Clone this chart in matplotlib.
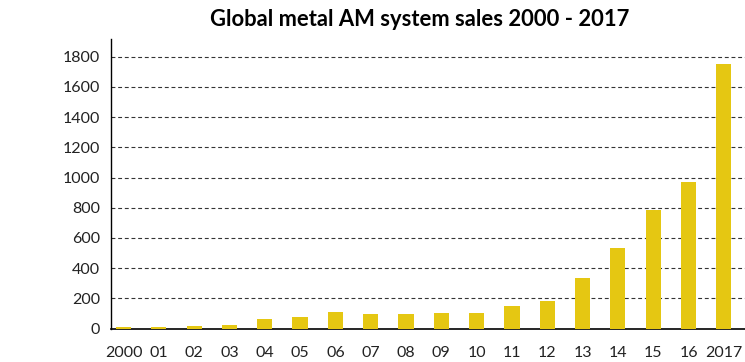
import matplotlib.pyplot as plt

years = ["2000", "01", "02", "03", "04", "05", "06", "07", "08",
         "09", "10", "11", "12", "13", "14", "15", "16", "2017"]
sales = [10, 8, 17, 24, 64, 77, 110, 97, 97,
         106, 106, 146, 179, 332, 531, 786, 969, 1753]
yticks = [0, 200, 400, 600, 800, 1000, 1200, 1400, 1600, 1800]

plt.rcParams['font.family'] = ['Lato', 'DejaVu Sans']

fig = plt.figure(figsize=(7.45, 3.62), dpi=100)
ax = fig.add_axes([111 / 745, 33.5 / 362, 634 / 745, 289.2 / 362])

x = list(range(len(years)))
ax.bar(x, sales, width=0.43, color='#E5C712', zorder=3)

ax.set_xlim(-0.354, 17.6)
ax.set_ylim(0, 1916)
ax.set_xticks(x)
ax.set_xticklabels(years, fontsize=11.5, color='#222222')
ax.set_yticks(yticks)
ax.set_yticklabels([str(v) for v in yticks], fontsize=11.5, color='#222222')
ax.tick_params(axis='x', length=0, pad=12.5)
ax.tick_params(axis='y', length=0, pad=8)

# dashed horizontal grid
for v in yticks[1:]:
    ax.axhline(v, color='#333333', linestyle=(0, (3.5, 2.5)), linewidth=0.8, zorder=1)

ax.spines['top'].set_visible(False)
ax.spines['right'].set_visible(False)
ax.spines['left'].set_linewidth(1.0)
ax.spines['bottom'].set_linewidth(1.2)

fig.text(420 / 745, 1 - 20 / 362, "Global metal AM system sales 2000 - 2017",
         ha='center', va='center', fontsize=15.8, fontweight='bold')

fig.savefig("out.png", dpi=100)
